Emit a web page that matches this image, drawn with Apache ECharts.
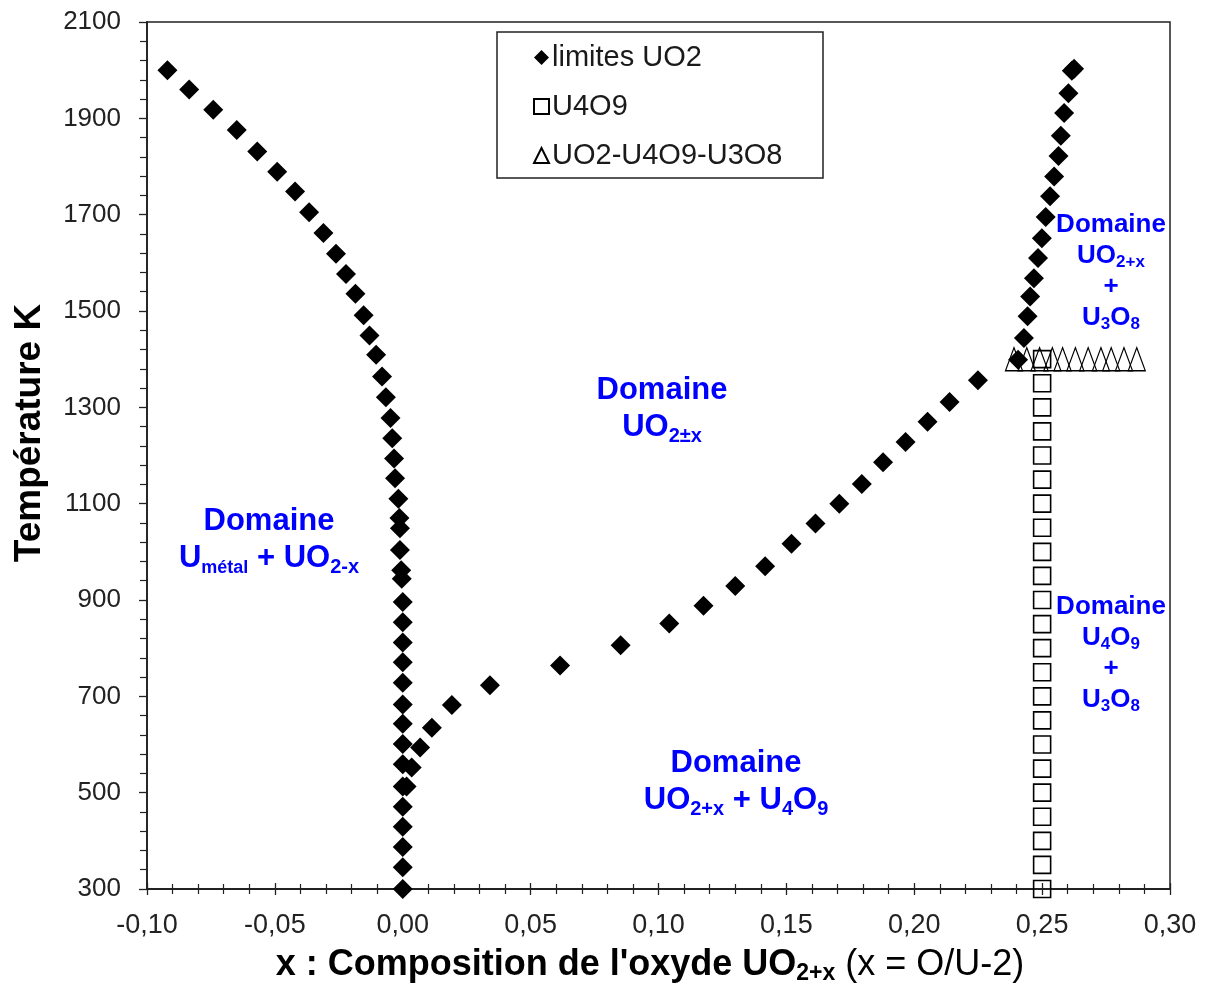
<!DOCTYPE html>
<html><head><meta charset="utf-8">
<script src="https://cdn.jsdelivr.net/npm/echarts@6/dist/echarts.min.js"></script>
<style>html,body{margin:0;padding:0;background:#fff}#c{width:1207px;height:984px}</style>
</head><body><div id="c"></div>
<script>
// ---- tick labels ----
const xTickValues = [-0.10, -0.05, 0.00, 0.05, 0.10, 0.15, 0.20, 0.25, 0.30];
const xTickLabels = ['-0,10', '-0,05', '0,00', '0,05', '0,10', '0,15', '0,20', '0,25', '0,30'];
const yTickValues = [300, 500, 700, 900, 1100, 1300, 1500, 1700, 1900, 2100];
const yTickLabels = ['300', '500', '700', '900', '1100', '1300', '1500', '1700', '1900', '2100'];

// ---- series "limites UO2" : [x, T] ----
const limitesLeft = [
  [-0.0920, 2000], [-0.0835, 1960], [-0.0741, 1918], [-0.0649, 1876], [-0.0569, 1831],
  [-0.0491, 1789], [-0.0421, 1748], [-0.0366, 1705], [-0.0310, 1662], [-0.0261, 1619],
  [-0.0222, 1577], [-0.0185, 1536], [-0.0153, 1491], [-0.0130, 1449], [-0.0104, 1409],
  [-0.0081, 1364], [-0.0066, 1321], [-0.0048, 1278], [-0.0041, 1236], [-0.0034, 1194],
  [-0.0030, 1153], [-0.0017, 1110], [-0.0013, 1070], [-0.0011, 1049], [-0.0011, 1004],
  [-0.0006, 962], [-0.0004, 944], [0.0000, 896], [0.0000, 854], [0.0000, 812],
  [0.0000, 771], [0.0000, 728], [0.0000, 683], [0.0000, 643], [0.0000, 601],
  [0.0000, 559], [0.0000, 513], [0.0000, 471], [0.0000, 429], [0.0000, 387],
  [0.0000, 345], [0.0000, 300]
];
const limitesLower = [
  [0.0015, 513], [0.0035, 552], [0.0068, 594], [0.0114, 635], [0.0192, 682],
  [0.0341, 723], [0.0615, 764], [0.0852, 806], [0.1042, 851], [0.1176, 888],
  [0.1300, 929], [0.1417, 970], [0.1520, 1017], [0.1614, 1059], [0.1707, 1100],
  [0.1795, 1141], [0.1878, 1186], [0.1966, 1228], [0.2052, 1270], [0.2138, 1311],
  [0.2249, 1356]
];
const limitesRight = [
  [0.2406, 1399], [0.2429, 1444], [0.2443, 1489], [0.2453, 1530], [0.2468, 1568],
  [0.2484, 1610], [0.2499, 1651], [0.2514, 1695], [0.2531, 1738], [0.2547, 1779],
  [0.2564, 1822], [0.2573, 1864], [0.2586, 1911], [0.2603, 1952], [0.2616, 1999],
  [0.2625, 2003]
];

// ---- series "U4O9" ----
const u4o9X = 0.25;
const u4o9T = [1400, 1350, 1300, 1250, 1200, 1150, 1100, 1050, 1000, 950, 900, 850,
               800, 750, 700, 650, 600, 550, 500, 450, 400, 350, 300];

// ---- series "UO2-U4O9-U3O8" ----
const triX = [0.239, 0.244, 0.249, 0.254, 0.258, 0.263, 0.268, 0.273, 0.277, 0.282, 0.287];
const triT = 1400;

const FONT = "'Liberation Sans', Arial, sans-serif";
const BLUE = '#0000ff';

function xFmt(v) {
  const i = xTickValues.findIndex(t => Math.abs(t - v) < 1e-6);
  return i >= 0 ? xTickLabels[i] : '';
}
function yFmt(v) {
  const i = yTickValues.findIndex(t => Math.abs(t - v) < 1e-6);
  return i >= 0 ? yTickLabels[i] : '';
}

const richBig = {
  b: { fontFamily: FONT, fontWeight: 'bold', fontSize: 31, fill: BLUE, lineHeight: 37 },
  s: { fontFamily: FONT, fontWeight: 'bold', fontSize: 20, fill: BLUE, lineHeight: 14, verticalAlign: 'bottom' },
  m: { fontFamily: FONT, fontWeight: 'bold', fontSize: 18, fill: BLUE, lineHeight: 14, verticalAlign: 'bottom' }
};
const richSmall = {
  b: { fontFamily: FONT, fontWeight: 'bold', fontSize: 26, fill: BLUE, lineHeight: 31 },
  s: { fontFamily: FONT, fontWeight: 'bold', fontSize: 17, fill: BLUE, lineHeight: 12, verticalAlign: 'bottom' }
};

function domainText(x, y, text, rich) {
  return {
    type: 'text', x: x, y: y, z: 10,
    style: { text: text, rich: rich, fill: BLUE, align: 'center', verticalAlign: 'middle' }
  };
}

const chart = echarts.init(document.getElementById('c'), null, { renderer: 'canvas' });
chart.setOption({
  animation: false,
  backgroundColor: '#fff',
  grid: { left: 147, right: 37, top: 22, bottom: 95, show: true, borderColor: '#222', borderWidth: 1.5, backgroundColor: 'transparent' },
  xAxis: [{
    type: 'value', min: -0.1, max: 0.3, interval: 0.05, position: 'bottom',
    axisLine: { show: true, onZero: false, lineStyle: { color: '#222', width: 1.8 } },
    axisTick: { show: true, inside: false, length: 6, lineStyle: { color: '#222', width: 1.3 } },
    minorTick: { show: true, splitNumber: 5, length: 5, lineStyle: { color: '#222', width: 1.2 } },
    splitLine: { show: false },
    axisLabel: { formatter: xFmt, margin: 23, fontFamily: FONT, fontSize: 27, color: '#222' }
  }, {
    type: 'value', min: -0.1, max: 0.3, interval: 0.05, position: 'bottom', gridIndex: 0,
    axisLine: { show: false, onZero: false },
    axisTick: { show: true, inside: true, length: 6, lineStyle: { color: '#222', width: 1.3 } },
    minorTick: { show: true, splitNumber: 5, length: 5, lineStyle: { color: '#222', width: 1.2 } },
    splitLine: { show: false },
    axisLabel: { show: false }
  }],
  yAxis: {
    type: 'value', min: 300, max: 2100, interval: 200,
    axisLine: { show: true, onZero: false, lineStyle: { color: '#222', width: 1.8 } },
    axisTick: { show: true, inside: false, length: 8, lineStyle: { color: '#222', width: 1.3 } },
    minorTick: { show: true, splitNumber: 5, length: 7, lineStyle: { color: '#222', width: 1.2 } },
    splitLine: { show: false },
    axisLabel: { formatter: yFmt, margin: 26, fontFamily: FONT, fontSize: 26, color: '#222' }
  },
  legend: {
    orient: 'vertical', left: 528, top: 38,
    itemWidth: 15, itemHeight: 15, itemGap: 20,
    textStyle: { fontFamily: FONT, fontSize: 29, lineHeight: 29, color: '#1a1a1a', padding: [0, 0, 0, -2] },
    data: ['limites UO2', 'U4O9', 'UO2-U4O9-U3O8']
  },
  series: [{
    name: 'limites UO2', type: 'scatter', symbol: 'diamond', symbolSize: 20,
    itemStyle: { color: '#000', opacity: 1 },
    data: limitesLeft.concat(limitesLower, limitesRight)
  }, {
    name: 'U4O9', type: 'scatter', symbol: 'rect', symbolSize: 17,
    itemStyle: { color: 'rgba(255,255,255,0)', borderColor: '#000', borderWidth: 1.6, opacity: 1 },
    data: u4o9T.map(t => [u4o9X, t])
  }, {
    name: 'UO2-U4O9-U3O8', type: 'scatter', symbol: 'triangle', symbolSize: [17, 23],
    itemStyle: { color: 'rgba(255,255,255,0)', borderColor: '#000', borderWidth: 1.3, opacity: 1 },
    data: triX.map(x => [x, triT])
  }],
  graphic: [
    { type: 'rect', shape: { x: 497, y: 32, width: 326, height: 146 }, z: 5,
      style: { fill: 'rgba(255,255,255,0)', stroke: '#222', lineWidth: 1.5 } },
    domainText(269, 540, '{b|Domaine}\n{b|U}{m|métal}{b| + UO}{s|2-x}', richBig),
    domainText(662, 409, '{b|Domaine}\n{b|UO}{s|2±x}', richBig),
    domainText(736, 782, '{b|Domaine}\n{b|UO}{s|2+x}{b| + U}{s|4}{b|O}{s|9}', richBig),
    domainText(1111, 271, '{b|Domaine}\n{b|UO}{s|2+x}\n{b|+}\n{b|U}{s|3}{b|O}{s|8}', richSmall),
    domainText(1111, 653, '{b|Domaine}\n{b|U}{s|4}{b|O}{s|9}\n{b|+}\n{b|U}{s|3}{b|O}{s|8}', richSmall),
    { type: 'text', x: 650, y: 965, z: 10,
      style: {
        text: "{b|x : Composition de l'oxyde UO}{bs|2+x}{r| (x = O/U-2)}",
        align: 'center', verticalAlign: 'middle', fill: '#000',
        rich: {
          b: { fontFamily: FONT, fontWeight: 'bold', fontSize: 36, fill: '#000', lineHeight: 40 },
          bs: { fontFamily: FONT, fontWeight: 'bold', fontSize: 23, fill: '#000', lineHeight: 16, verticalAlign: 'bottom' },
          r: { fontFamily: FONT, fontSize: 36, fill: '#000', lineHeight: 40 }
        }
      } },
    { type: 'text', x: 30, y: 433, rotation: Math.PI / 2, z: 10,
      style: { text: 'Température K', fontFamily: FONT, fontWeight: 'bold', fontSize: 37,
               fill: '#000', align: 'center', verticalAlign: 'middle' } }
  ]
});
</script>
</body></html>
